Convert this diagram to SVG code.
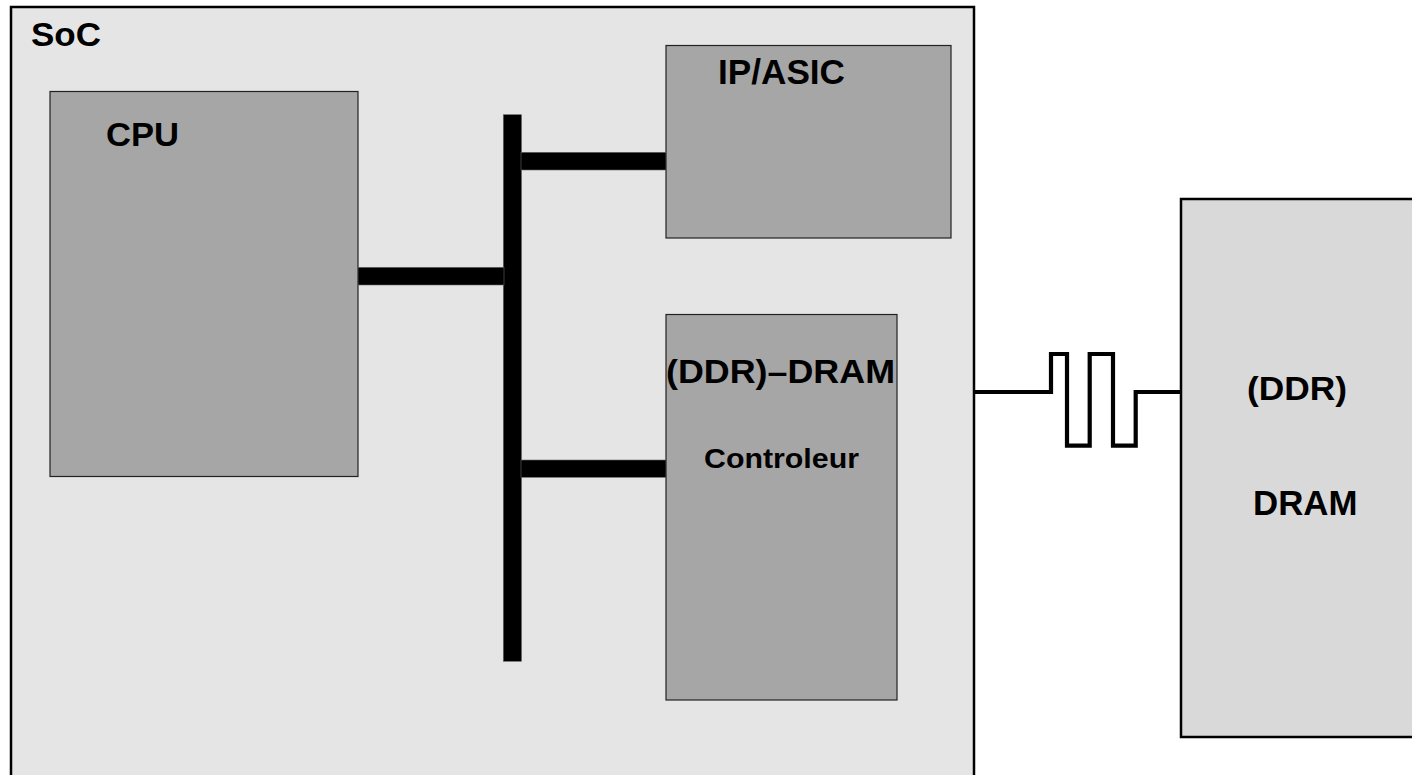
<svg xmlns="http://www.w3.org/2000/svg" width="1412" height="775" viewBox="0 0 1412 775">
<style>
  .lbl { font-family: "Liberation Sans", Arial, sans-serif; font-weight: bold; fill: #000; }
  .blk { fill: #a6a6a6; stroke: #222; stroke-width: 1.2; }
  .bus { fill: #000; stroke: #666; stroke-width: 0.6; }
</style>
<rect width="1412" height="775" fill="#fff"/>
<g id="soc">
  <rect x="11" y="7" width="963" height="780" fill="#e5e5e5" stroke="#000" stroke-width="2.5"/>
  <text class="lbl" x="31" y="46" font-size="34" textLength="70" lengthAdjust="spacingAndGlyphs">SoC</text>
</g>
<g id="cpu">
  <rect class="blk" x="50" y="91.5" width="308" height="385"/>
  <text class="lbl" x="106" y="146" font-size="34" textLength="73" lengthAdjust="spacingAndGlyphs">CPU</text>
</g>
<g id="ip-asic">
  <rect class="blk" x="666" y="45.5" width="285" height="192.5"/>
  <text class="lbl" x="718" y="83.5" font-size="35" textLength="127" lengthAdjust="spacingAndGlyphs">IP/ASIC</text>
</g>
<g id="ddr-controller">
  <rect class="blk" x="666" y="314.5" width="231" height="385.5"/>
  <text class="lbl" x="666" y="383" font-size="33" textLength="229" lengthAdjust="spacingAndGlyphs">(DDR)–DRAM</text>
  <text class="lbl" x="704" y="467.5" font-size="27" textLength="155" lengthAdjust="spacingAndGlyphs">Controleur</text>
</g>
<g id="dram">
  <rect x="1181" y="199" width="240" height="538" fill="#d9d9d9" stroke="#000" stroke-width="2.5"/>
  <text class="lbl" x="1247" y="400" font-size="34" textLength="100" lengthAdjust="spacingAndGlyphs">(DDR)</text>
  <text class="lbl" x="1253" y="515" font-size="35" textLength="104.5" lengthAdjust="spacingAndGlyphs">DRAM</text>
</g>
<g id="connectors">
  <rect class="bus" x="503.3" y="114.7" width="18.2" height="546.6"/>
  <rect class="bus" x="358" y="267.3" width="146" height="17.7"/>
  <rect class="bus" x="521" y="152.3" width="145" height="17.7"/>
  <rect class="bus" x="521" y="460" width="145" height="17.3"/>
  <path d="M974,392 H1051 V354 H1067 V445.7 H1089.7 V354 H1113 V445.7 H1135.7 V392 H1181" fill="none" stroke="#000" stroke-width="4.2"/>
</g>
</svg>
